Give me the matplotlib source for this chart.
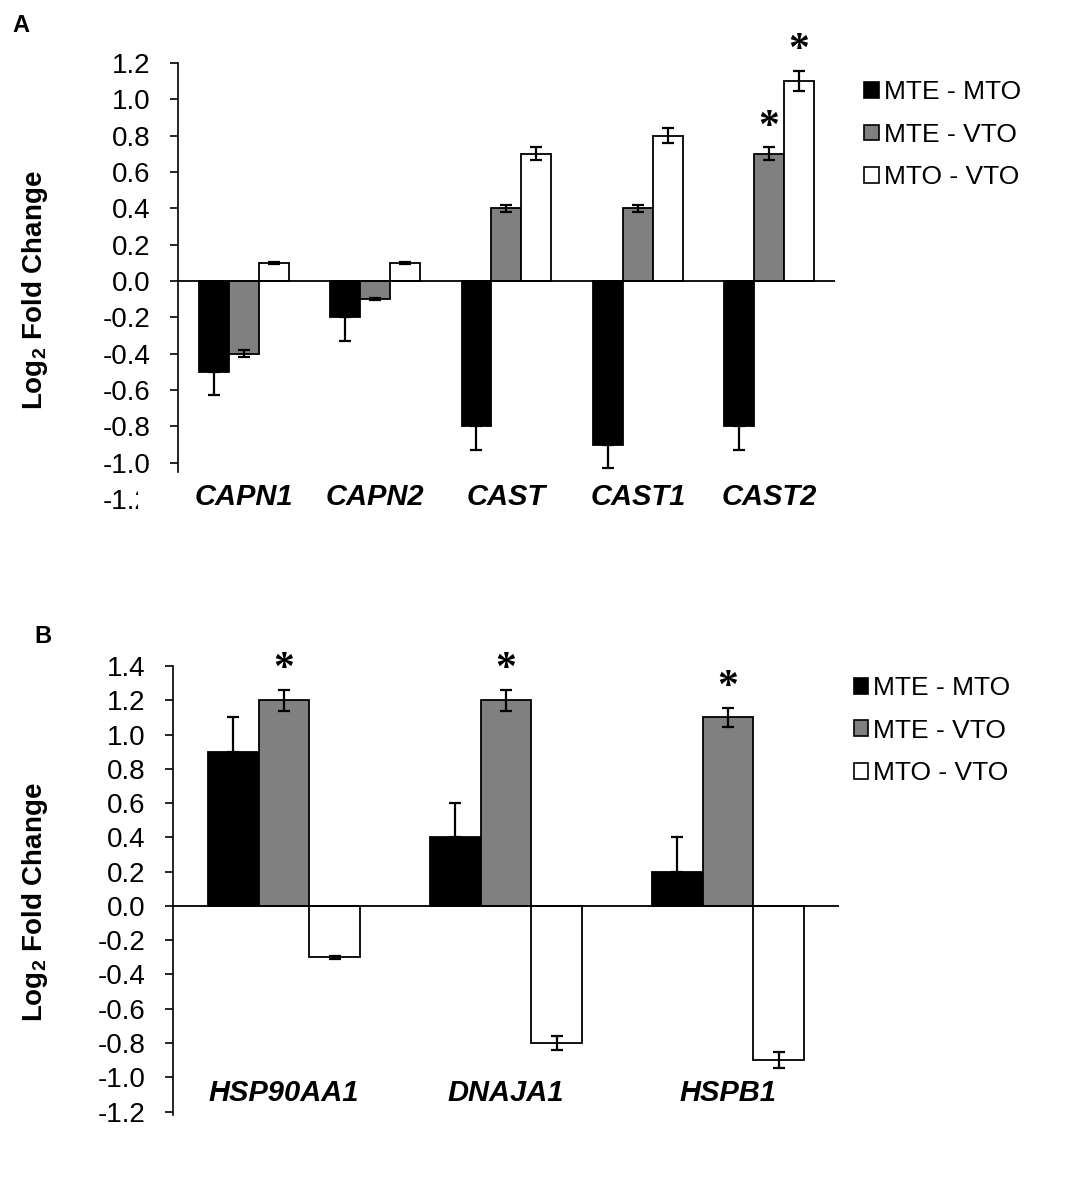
import matplotlib
matplotlib.use("Agg")
import matplotlib.pyplot as plt
import matplotlib.transforms as mtransforms
from matplotlib.patches import Patch
import numpy as np

plt.rcParams['font.family'] = ['Liberation Sans', 'DejaVu Sans']
plt.rcParams['mathtext.fontset'] = 'custom'
plt.rcParams['mathtext.rm'] = 'Liberation Sans'
plt.rcParams['mathtext.bf'] = 'Liberation Sans:bold'

series = ["MTE - MTO", "MTE - VTO", "MTO - VTO"]
colors = ["#000000", "#808080", "#ffffff"]

# Panel A data
genes_a = ["CAPN1", "CAPN2", "CAST", "CAST1", "CAST2"]
a_mte_mto = [-0.5, -0.2, -0.8, -0.9, -0.8]
a_mte_vto = [-0.4, -0.1, 0.4, 0.4, 0.7]
a_mto_vto = [0.1, 0.1, 0.7, 0.8, 1.1]
a_err_mte_mto = [0.13, 0.13, 0.13, 0.13, 0.13]
a_err_mte_vto = [0.02, 0.005, 0.02, 0.02, 0.035]
a_err_mto_vto = [0.005, 0.005, 0.035, 0.04, 0.055]
a_stars = [(4, 1), (4, 2)]  # (gene index, series index)

# Panel B data
genes_b = ["HSP90AA1", "DNAJA1", "HSPB1"]
b_mte_mto = [0.9, 0.4, 0.2]
b_mte_vto = [1.2, 1.2, 1.1]
b_mto_vto = [-0.3, -0.8, -0.9]
b_err_mte_mto = [0.2, 0.2, 0.2]
b_err_mte_vto = [0.06, 0.06, 0.055]
b_err_mto_vto = [0.01, 0.04, 0.045]
b_stars = [(0, 1), (1, 1), (2, 1)]

fig = plt.figure(figsize=(10.75, 11.8), dpi=100)


def panel(ax, genes, vals, errs, stars, ylim, yticks, label_y, spine_bottom, ylab_xy):
    x = np.arange(len(genes))
    w = 0.228
    for i, (v, e) in enumerate(zip(vals, errs)):
        v = np.array(v)
        e = np.array(e)
        pos = x + (i - 1) * w
        ax.bar(pos, v, w, color=colors[i], edgecolor="black", linewidth=1.3, zorder=2)
        if i == 0:
            # one-sided error bars pointing away from zero
            lower = np.where(v < 0, e, 0)
            upper = np.where(v > 0, e, 0)
            yerr = [lower, upper]
        else:
            yerr = e
        ax.errorbar(pos, v, yerr=yerr, fmt="none", ecolor="black", elinewidth=1.6,
                    capsize=4.5, capthick=1.6, zorder=3)
    for gi, si in stars:
        v = vals[si][gi]
        e = errs[si][gi]
        ax.text(x[gi] + (si - 1) * w, v + e + 0.005, "*", ha="center", va="bottom",
                fontsize=30, family="Liberation Serif", fontweight="bold")
    ax.axhline(0, color="black", linewidth=1.3, zorder=4)
    ax.set_xlim(-0.5, len(genes) - 0.5)
    ax.set_ylim(*ylim)
    ax.set_yticks(yticks)
    ax.set_yticklabels(["%.1f" % t if abs(t) > 1e-9 else "0.0" for t in yticks],
                       fontsize=20)
    ax.tick_params(axis="y", direction="out", length=6, width=1.2, pad=14)
    ax.set_xticks([])
    for s in ["top", "right", "bottom"]:
        ax.spines[s].set_visible(False)
    ax.spines["left"].set_linewidth(1.2)
    ax.spines["left"].set_bounds(spine_bottom, ylim[1])
    for xi, g in zip(x, genes):
        ax.text(xi, label_y, g, ha="center", va="center", fontsize=21,
                fontweight="bold", fontstyle="italic")
    ax.set_ylabel("Log$_\\mathbf{2}$ Fold Change", fontsize=20, fontweight="bold")
    ax.yaxis.set_label_coords(*ylab_xy)
    handles = [Patch(facecolor=c, edgecolor="black", linewidth=1.2) for c in colors]
    return handles


axA = fig.add_axes([0.1656, 0.5771, 0.611, 0.3695])
hA = panel(axA, genes_a, [a_mte_mto, a_mte_vto, a_mto_vto],
           [a_err_mte_mto, a_err_mte_vto, a_err_mto_vto], a_stars,
           (-1.2, 1.2), np.round(np.arange(-1.2, 1.21, 0.2), 1), -1.19, -1.05,
           (-0.195, 0.479))
axA.legend(hA, series, loc="upper left", bbox_to_anchor=(0.782, 0.952),
           bbox_transform=fig.transFigure, frameon=False, fontsize=19,
           handlelength=0.55, handleheight=0.55, handletextpad=0.2, labelspacing=0.7)

axB = fig.add_axes([0.1609, 0.0551, 0.6196, 0.3805])
hB = panel(axB, genes_b, [b_mte_mto, b_mte_vto, b_mto_vto],
           [b_err_mte_mto, b_err_mte_vto, b_err_mto_vto], b_stars,
           (-1.22, 1.4), np.round(np.arange(-1.2, 1.41, 0.2), 1), -1.09, -1.22,
           (-0.185, 0.474))
axB.legend(hB, series, loc="upper left", bbox_to_anchor=(0.772, 0.447),
           bbox_transform=fig.transFigure, frameon=False, fontsize=19,
           handlelength=0.55, handleheight=0.55, handletextpad=0.2, labelspacing=0.7)

# the -1.2 label in panel A is partly hidden in the original
clip = mtransforms.TransformedBbox(mtransforms.Bbox.from_extents(0, 0, 1.38, 11.8),
                                   fig.dpi_scale_trans)
for t, lab in zip(axA.get_yticks(), axA.get_yticklabels()):
    if abs(t + 1.2) < 1e-6:
        lab.set_clip_on(True)
        lab.set_clip_box(clip)
        axA.yaxis.get_major_ticks()[0].tick1line.set_visible(False)

fig.text(0.012, 0.978, "A", fontsize=17, fontweight="bold", va="center")
fig.text(0.032, 0.461, "B", fontsize=17, fontweight="bold", va="center")

fig.savefig("out.png", dpi=100)
